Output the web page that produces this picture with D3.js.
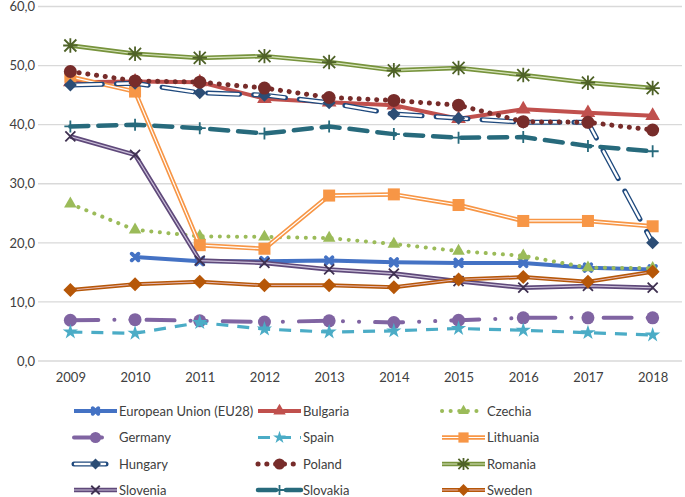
<!DOCTYPE html>
<html><head><meta charset="utf-8">
<script src="https://cdn.jsdelivr.net/npm/d3@7"></script>
<style>body{margin:0;background:#fff;} svg{display:block;font-family:Lato,"Open Sans",sans-serif;}</style>
</head><body>
<svg id="c" width="685" height="497"></svg>
<script>
const years = ["2009","2010","2011","2012","2013","2014","2015","2016","2017","2018"];
const yTicks = [0,10,20,30,40,50,60];
const eu28      = [null,17.6,16.9,16.9,17.0,16.7,16.6,16.6,15.8,15.5];
const bulgaria  = [47.2,47.3,47.2,44.4,43.8,43.3,41.0,42.6,42.0,41.5];
const czechia   = [26.6,22.2,21.1,21.0,20.8,19.8,18.6,17.8,15.8,15.7];
const germany   = [6.9,7.0,6.8,6.6,6.8,6.5,6.9,7.3,7.3,7.3];
const spain     = [4.9,4.7,6.5,5.4,4.9,5.1,5.5,5.2,4.8,4.4];
const lithuania = [48.1,45.6,19.6,19.0,28.0,28.2,26.4,23.7,23.7,22.8];
const hungary   = [46.7,47.0,45.4,45.0,43.7,41.8,41.1,40.4,40.4,20.0];
const poland    = [49.0,47.4,47.2,46.2,44.6,44.1,43.3,40.5,40.4,39.1];
const romania   = [53.4,52.0,51.3,51.6,50.6,49.2,49.6,48.4,47.1,46.2];
const slovenia  = [38.0,34.9,17.0,16.6,15.5,14.8,13.5,12.4,12.7,12.4];
const slovakia  = [39.7,40.0,39.4,38.5,39.7,38.4,37.8,37.9,36.4,35.5];
const sweden    = [12.0,13.0,13.4,12.8,12.8,12.5,13.8,14.2,13.4,15.1];

const series = [
 {name:"European Union (EU28)", v:eu28, c:"#4472C4", w:4, marker:"xfat", mc:"#4472C4", ms:3.3},
 {name:"Bulgaria", v:bulgaria, c:"#C0504D", w:4, marker:"tri", mc:"#C0504D", ms:7},
 {name:"Czechia", v:czechia, c:"#9BBB59", w:4, dash:"0.1,8.5", cap:"round", marker:"tri", mc:"#9BBB59", ms:6},
 {name:"Germany", v:germany, c:"#8064A2", w:4, dash:"28,16,0.1,16,0.1,16", cap:"round", marker:"circle", mc:"#8064A2", ms:6.5},
 {name:"Spain", v:spain, c:"#4BACC6", w:3.2, dash:"12,9", marker:"star", mc:"#4BACC6", ms:6},
 {name:"Lithuania", v:lithuania, c:"#F79646", w:4.5, inner:"#ffffff", iw:1.2, marker:"square", mc:"#F79646", ms:6},
 {name:"Hungary", v:hungary, c:"#1F497D", w:5, dash:"32,14", cap:"round", inner:"#ffffff", iw:2.4, idash:"30,16", ioff:-1, marker:"diamond", mc:"#2C4D75", ms:6.5},
 {name:"Poland", v:poland, c:"#772C2A", w:5, dash:"0.1,8.7", cap:"round", marker:"circle", mc:"#772C2A", ms:6.5},
 {name:"Romania", v:romania, c:"#77933C", w:4.5, inner:"#D7E4BD", iw:1.2, marker:"aster", mc:"#4F6228", ms:6},
 {name:"Slovenia", v:slovenia, c:"#5F497A", w:4.5, inner:"#CCC1DA", iw:1.2, marker:"x", mc:"#3F3151", ms:5},
 {name:"Slovakia", v:slovakia, c:"#276A7C", w:4.5, dash:"18,10", cap:"round", marker:"plus", mc:"#276A7C", ms:6},
 {name:"Sweden", v:sweden, c:"#B65708", w:4, inner:"#E6B9B8", iw:1, marker:"diamond", mc:"#B65708", ms:7}
];

const svg = d3.select("#c");
const x = d3.scalePoint().domain(years).range([38,685]).padding(0.5);
const y = d3.scaleLinear().domain([0,60]).range([361,6.5]);
const fmt = v => d3.format(".1f")(v).replace(".", ",");

// grid
svg.append("g").selectAll("line").data(yTicks).join("line")
  .attr("x1",38).attr("x2",682).attr("y1",d=>y(d)).attr("y2",d=>y(d))
  .attr("stroke","#D9D9D9").attr("stroke-width",1.3);

const yAxis = d3.axisLeft(y).tickValues(yTicks).tickFormat(fmt).tickSize(0).tickPadding(3);
const gy = svg.append("g").attr("transform","translate(38,0)").call(yAxis);
gy.select(".domain").remove();
gy.selectAll("text").attr("font-size",13).attr("fill","#404040").attr("font-family","Lato,sans-serif");

const xAxis = d3.axisBottom(x).tickSize(0).tickPadding(12);
const gx = svg.append("g").attr("transform","translate(0,361)").call(xAxis);
gx.select(".domain").remove();
gx.selectAll("text").attr("font-size",13).attr("fill","#404040").attr("font-family","Lato,sans-serif");

function drawMarker(g, type, cx, cy, s, col){
  const m = g.append("g").attr("transform",`translate(${cx},${cy})`);
  if(type==="circle") m.append("circle").attr("r",s).attr("fill",col);
  else if(type==="tri") m.append("path").attr("d",d3.symbol(d3.symbolTriangle, s*s*1.9)()).attr("fill",col);
  else if(type==="square") m.append("rect").attr("x",-s).attr("y",-s).attr("width",2*s).attr("height",2*s).attr("fill",col);
  else if(type==="diamond") m.append("path").attr("d",`M0,${-s}L${s},0L0,${s}L${-s},0Z`).attr("fill",col);
  else if(type==="star") m.append("path").attr("d",d3.symbol(d3.symbolStar, s*s*2)()).attr("fill",col);
  else if(type==="xfat") m.append("path").attr("d",`M${-s},${-s}L${s},${s}M${-s},${s}L${s},${-s}`).attr("stroke",col).attr("stroke-width",3.8).attr("stroke-linecap","round");
  else if(type==="x") m.append("path").attr("d",`M${-s},${-s}L${s},${s}M${-s},${s}L${s},${-s}`).attr("stroke",col).attr("stroke-width",1.8);
  else if(type==="plus") m.append("path").attr("d",`M${-s},0L${s},0M0,${-s}L0,${s}`).attr("stroke",col).attr("stroke-width",1.8);
  else if(type==="aster") m.append("path").attr("d",`M${-s},${-s}L${s},${s}M${-s},${s}L${s},${-s}M${-s*1.2},0L${s*1.2},0M0,${-s*1.2}L0,${s*1.2}`).attr("stroke",col).attr("stroke-width",1.8);
}

function drawLine(g, pts, s){
  const line = d3.line().x(d=>d[0]).y(d=>d[1]);
  g.append("path").attr("d",line(pts)).attr("fill","none").attr("stroke",s.c).attr("stroke-width",s.w)
   .attr("stroke-dasharray",s.dash||null).attr("stroke-linecap",s.cap||"butt").attr("stroke-linejoin","round");
  if(s.inner){
    g.append("path").attr("d",line(pts)).attr("fill","none").attr("stroke",s.inner).attr("stroke-width",s.iw)
     .attr("stroke-dasharray",s.idash||null).attr("stroke-dashoffset",s.ioff||0)
     .attr("stroke-linecap",s.cap||"butt").attr("stroke-linejoin","round");
  }
}

const plot = svg.append("g");
series.forEach(s=>{
  const g = plot.append("g");
  const pts = years.map((yr,i)=>s.v[i]==null?null:[x(yr), y(s.v[i])]).filter(p=>p);
  drawLine(g, pts, s);
  pts.forEach(p=>drawMarker(g, s.marker, p[0], p[1], s.ms, s.mc));
});

// legend
const colX = [74,258,442], rowY = [411,437.5,464,490];
series.forEach((s,i)=>{
  const col = i%3, row = Math.floor(i/3);
  const lx = colX[col], ly = rowY[row];
  const g = svg.append("g");
  drawLine(g, [[lx,ly],[lx+43,ly]], s);
  drawMarker(g, s.marker, lx+21.5, ly, s.ms*0.85, s.mc);
  g.append("text").attr("x",lx+45).attr("y",ly).attr("dy","0.35em")
   .attr("font-size",13).attr("fill","#404040").text(s.name);
});
</script>
</body></html>
